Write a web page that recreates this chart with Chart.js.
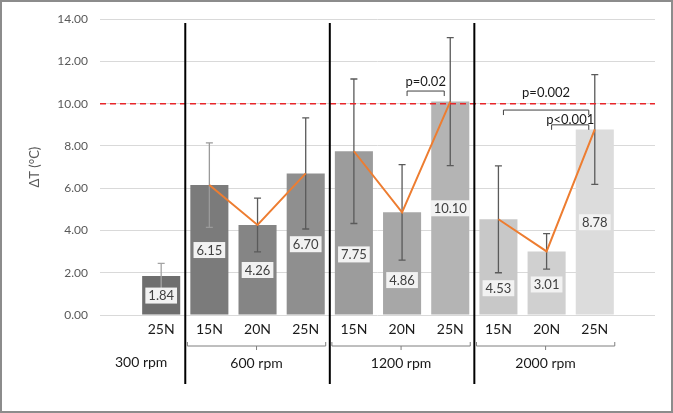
<!DOCTYPE html>
<html>
<head>
<meta charset="utf-8">
<script src="https://cdn.jsdelivr.net/npm/chart.js@4.4.0/dist/chart.umd.min.js"></script>
<style>
  html, body { margin: 0; padding: 0; background: #fff; }
  canvas { display: block; }
</style>
</head>
<body>
<canvas id="dtChart" width="673" height="413"></canvas>
<script>
// values
const forces = ['25N', '15N', '20N', '25N', '15N', '20N', '25N', '15N', '20N', '25N'];
const speeds = ['300 rpm', '600 rpm', '1200 rpm', '2000 rpm'];
const groupOf = [0, 1, 1, 1, 2, 2, 2, 3, 3, 3];
const deltaT = [1.84, 6.15, 4.26, 6.70, 7.75, 4.86, 10.10, 4.53, 3.01, 8.78];
const sdT = [0.60, 2.00, 1.27, 2.63, 3.42, 2.26, 3.03, 2.53, 0.84, 2.60];
const threshold = 10;

// significance brackets
const pLabels = ['p=0.02', 'p=0.002', 'p<0.001'];
const pFrom = [5, 7, 8];
const pTo = [6, 9, 9];

// styles
const barColors = ['#6e6e6e', '#7b7b7b', '#858585', '#8f8f8f', '#9c9c9c', '#a7a7a7', '#b4b4b4', '#c8c8c8', '#d0d0d0', '#dcdcdc'];
const errColors = ['#a3a3a3', '#9a9a9a', '#5a5a5a', '#5a5a5a', '#5a5a5a', '#5a5a5a', '#5a5a5a', '#5a5a5a', '#5a5a5a', '#5a5a5a'];
const labelFrac = [0.5, 0.5, 0.5, 0.5, 0.37, 0.34, 0.5, 0.28, 0.48, 0.5];
const FONT = "Lato, 'Open Sans', sans-serif";
const X_MIN = -1.27, X_MAX = 10.25;

const barData = deltaT.map((v, i) => ({ x: i, y: v }));
const lineData = [];
deltaT.forEach((v, i) => {
  if (groupOf[i] === 0) return;
  if (i > 0 && groupOf[i] !== groupOf[i - 1] && lineData.length) lineData.push({ x: i - 0.5, y: null });
  lineData.push({ x: i, y: v });
});

const overlay = {
  id: 'overlay',
  afterDatasetDraw(chart, args) {
    if (args.index !== 0) return;
    const { ctx } = chart;
    const xs = chart.scales.x, ys = chart.scales.y;
    ctx.save();
    // error bars
    deltaT.forEach((v, i) => {
      const x = xs.getPixelForValue(i);
      const top = ys.getPixelForValue(v + sdT[i]);
      const bot = ys.getPixelForValue(v - sdT[i]);
      ctx.strokeStyle = errColors[i];
      ctx.lineWidth = 1.3;
      ctx.beginPath();
      ctx.moveTo(x, top); ctx.lineTo(x, bot);
      ctx.moveTo(x - 3.5, top); ctx.lineTo(x + 3.5, top);
      ctx.moveTo(x - 3.5, bot); ctx.lineTo(x + 3.5, bot);
      ctx.stroke();
    });
    // value boxes
    ctx.font = '13px ' + FONT;
    ctx.textAlign = 'center';
    ctx.textBaseline = 'middle';
    deltaT.forEach((v, i) => {
      const x = xs.getPixelForValue(i);
      const y = ys.getPixelForValue(v * labelFrac[i]);
      const txt = v.toFixed(2);
      const w = ctx.measureText(txt).width + 6;
      ctx.fillStyle = '#f2f2f2';
      ctx.fillRect(x - w / 2, y - 8, w, 16);
      ctx.fillStyle = '#404040';
      ctx.fillText(txt, x, y + 0.5);
    });
    ctx.restore();
  },
  afterDraw(chart) {
    const { ctx, chartArea } = chart;
    const xs = chart.scales.x, ys = chart.scales.y;
    ctx.save();
    // threshold line
    const yt = ys.getPixelForValue(threshold);
    ctx.strokeStyle = '#e8262a';
    ctx.lineWidth = 1.5;
    ctx.setLineDash([6, 4]);
    ctx.beginPath();
    ctx.moveTo(chartArea.left, yt); ctx.lineTo(chartArea.right, yt);
    ctx.stroke();
    ctx.setLineDash([]);

    // group separators
    ctx.strokeStyle = '#000';
    ctx.lineWidth = 2;
    for (let i = 1; i < groupOf.length; i++) {
      if (groupOf[i] === groupOf[i - 1]) continue;
      const x = xs.getPixelForValue(i - 0.5);
      ctx.beginPath();
      ctx.moveTo(x, 23); ctx.lineTo(x, 384);
      ctx.stroke();
    }

    // group brackets and labels
    ctx.font = '14px ' + FONT;
    ctx.fillStyle = '#1a1a1a';
    ctx.textAlign = 'center';
    ctx.textBaseline = 'middle';
    speeds.forEach((s, g) => {
      const idx = groupOf.map((v, i) => v === g ? i : -1).filter(i => i >= 0);
      const x0 = xs.getPixelForValue(idx[0]);
      const x1 = xs.getPixelForValue(idx[idx.length - 1]);
      if (idx.length === 1) {
        ctx.fillText(s, x0 - 20, 362);
        return;
      }
      const l = x0 - 22, r = x1 + 20, m = (l + r) / 2, yb = 346;
      ctx.strokeStyle = '#7f7f7f';
      ctx.lineWidth = 1;
      ctx.beginPath();
      ctx.moveTo(l, yb - 4); ctx.lineTo(l, yb); ctx.lineTo(r, yb); ctx.lineTo(r, yb - 4);
      ctx.moveTo(m, yb); ctx.lineTo(m, yb + 4);
      ctx.stroke();
      ctx.fillText(s, m, 363);
    });

    // significance brackets
    const pY = [10.6, 9.7, 9.0];
    const pGap = [9, 17, 5];
    ctx.font = '13px ' + FONT;
    ctx.textBaseline = 'middle';
    pLabels.forEach((t, k) => {
      const l = xs.getPixelForValue(pFrom[k]) + 5;
      const r = xs.getPixelForValue(pTo[k]) - 6;
      const y = ys.getPixelForValue(pY[k]);
      ctx.strokeStyle = '#404040';
      ctx.lineWidth = 1;
      ctx.beginPath();
      ctx.moveTo(l, y + 5); ctx.lineTo(l, y); ctx.lineTo(r, y); ctx.lineTo(r, y + 5);
      ctx.stroke();
      ctx.fillStyle = '#1a1a1a';
      ctx.fillText(t, (l + r) / 2, y - pGap[k]);
    });

    // outer frame
    ctx.strokeStyle = '#8c8c8c';
    ctx.lineWidth = 2;
    ctx.strokeRect(1, 1, chart.width - 2, chart.height - 2);
    ctx.restore();
  }
};

new Chart('dtChart', {
  type: 'bar',
  data: {
    datasets: [{
      type: 'bar',
      data: barData,
      backgroundColor: barColors,
      barPercentage: 0.79,
      categoryPercentage: 1,
      order: 1
    }, {
      type: 'line',
      data: lineData,
      borderColor: '#ed7d31',
      borderWidth: 2,
      pointRadius: 0,
      spanGaps: false,
      tension: 0,
      order: 0
    }]
  },
  options: {
    responsive: false,
    animation: false,
    layout: { padding: { top: 16, right: 18, left: 0, bottom: 0 } },
    plugins: {
      legend: { display: false },
      tooltip: { enabled: false }
    },
    scales: {
      x: {
        type: 'linear',
        bounds: 'data',
        offset: false,
        min: X_MIN,
        max: X_MAX,
        afterFit: s => { s.height = 98; },
        afterBuildTicks: s => {
          s.ticks = forces.map((f, i) => ({ value: i }));
          s.min = X_MIN;
          s.max = X_MAX;
        },
        grid: { display: false, drawTicks: false },
        border: { display: false },
        ticks: {
          autoSkip: false,
          maxRotation: 0,
          padding: 6,
          color: '#1a1a1a',
          font: { family: FONT, size: 14 },
          callback: v => forces[v]
        }
      },
      y: {
        min: 0,
        max: 14,
        afterFit: s => { s.width = 100; },
        grid: { color: '#d9d9d9', drawTicks: false },
        border: { display: false },
        ticks: {
          stepSize: 2,
          padding: 12,
          color: '#595959',
          font: { family: FONT, size: 12 },
          callback: v => v.toFixed(2)
        },
        title: {
          display: true,
          text: 'ΔT (°C)',
          color: '#595959',
          font: { family: FONT, size: 13 },
          padding: { top: 27, bottom: 0 }
        }
      }
    }
  },
  plugins: [overlay]
});
</script>
</body>
</html>
